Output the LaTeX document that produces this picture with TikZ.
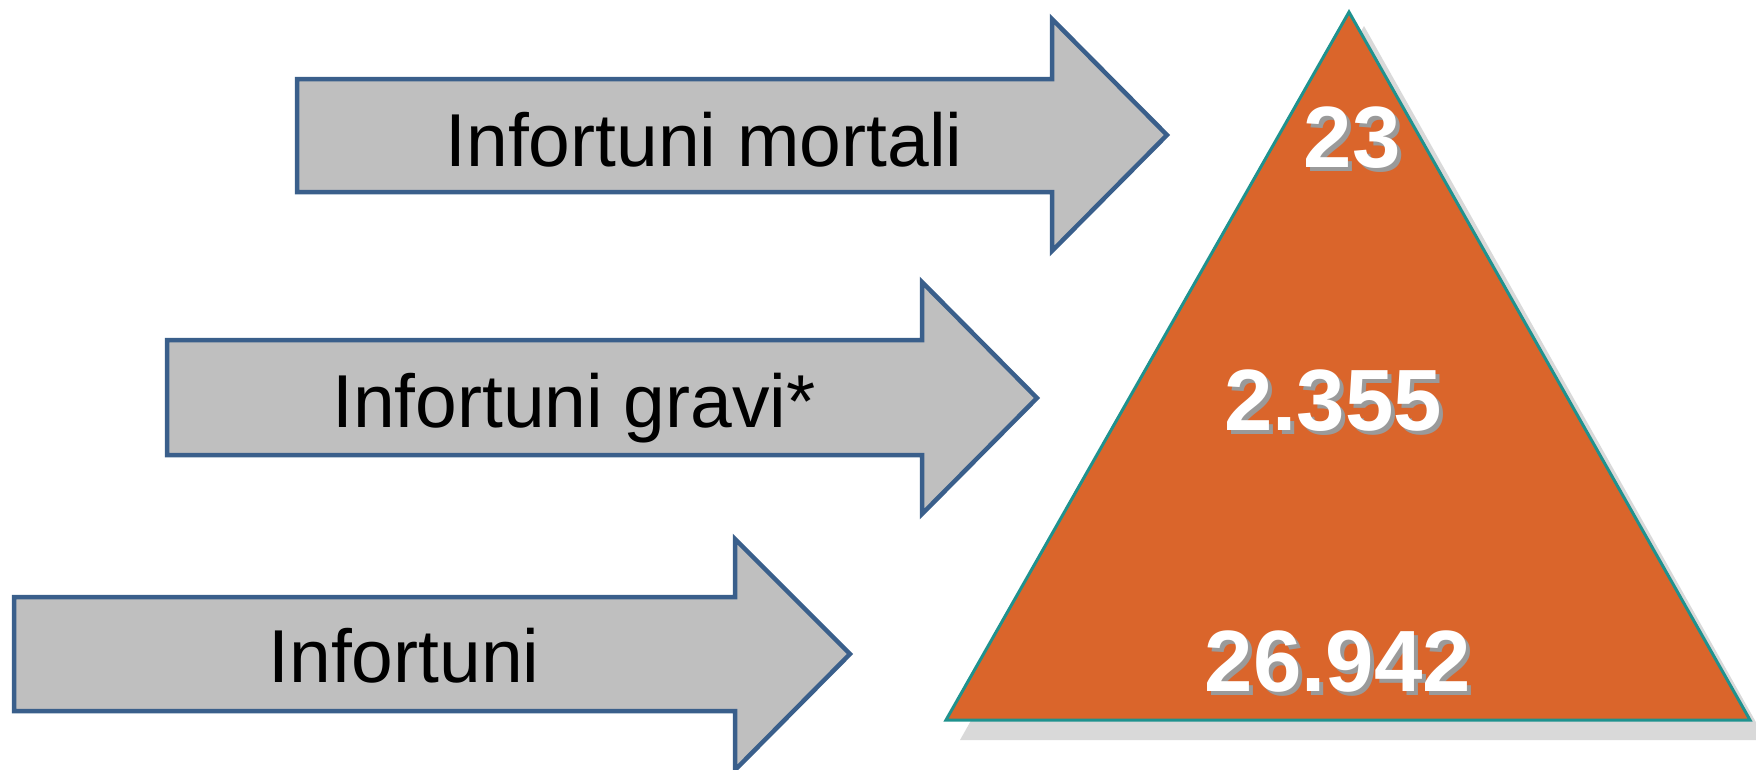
\documentclass[tikz,border=0pt]{standalone}
\usepackage{fontspec}
\setmainfont{Liberation Sans}
\definecolor{arrowfill}{HTML}{BFBFBF}
\definecolor{arrowline}{HTML}{3A5F8B}
\definecolor{pyrfill}{HTML}{DA652B}
\definecolor{pyrline}{HTML}{1F928E}
\definecolor{shadowgray}{HTML}{D9D9D9}
\definecolor{numshadow}{HTML}{9A9A9A}
\tikzset{
  arrowshape/.style={fill=arrowfill, draw=arrowline, line width=4.5pt, line join=miter},
  lbl/.style={anchor=base, font=\fontsize{75}{80}\selectfont, text=black, inner sep=0pt},
  num/.style={anchor=base, font=\fontsize{87}{90}\selectfont\bfseries, text=white, inner sep=0pt},
  numsh/.style={anchor=base, font=\fontsize{87}{90}\selectfont\bfseries, text=numshadow, inner sep=0pt},
}
\begin{document}
\begin{tikzpicture}[x=1pt,y=-1pt]
\useasboundingbox (0,0) rectangle (1756,769);
\clip (0,0) rectangle (1756,769);
% pyramid shadow
\fill[shadowgray] (1364,26) -- (1766,740) -- (960,740) -- cycle;
% pyramid
\coordinate (apex) at (1349,12);
\coordinate (bl) at (946,720);
\coordinate (br) at (1750,720);
\draw[fill=pyrfill, draw=pyrline, line width=3pt, line join=miter] (apex) -- (br) -- (bl) -- cycle;
% arrows
\draw[arrowshape] (297,79) -- (1052,79) -- (1052,19) -- (1167,135) -- (1052,251) -- (1052,192) -- (297,192) -- cycle;
\draw[arrowshape] (167,340) -- (922,340) -- (922,282) -- (1037,398) -- (922,514) -- (922,455) -- (167,455) -- cycle;
\draw[arrowshape] (14,597) -- (735,597) -- (735,539) -- (850,654) -- (735,770) -- (735,711) -- (14,711) -- cycle;
% labels
\node[lbl] (l1) at (704,166) {Infortuni mortali};
\node[lbl] (l2) at (574,427) {Infortuni gravi*};
\node[lbl] (l3) at (404,682) {Infortuni};
% numbers with shadow
\node[numsh] (s1) at (1356,171) {23};
\node[numsh] (s2) at (1337,434) {2.355};
\node[numsh] (s3) at (1342,695) {26.942};
\node[num] (n1) at (1352,167) {23};
\node[num] (n2) at (1333,430) {2.355};
\node[num] (n3) at (1338,691) {26.942};
\end{tikzpicture}
\end{document}
